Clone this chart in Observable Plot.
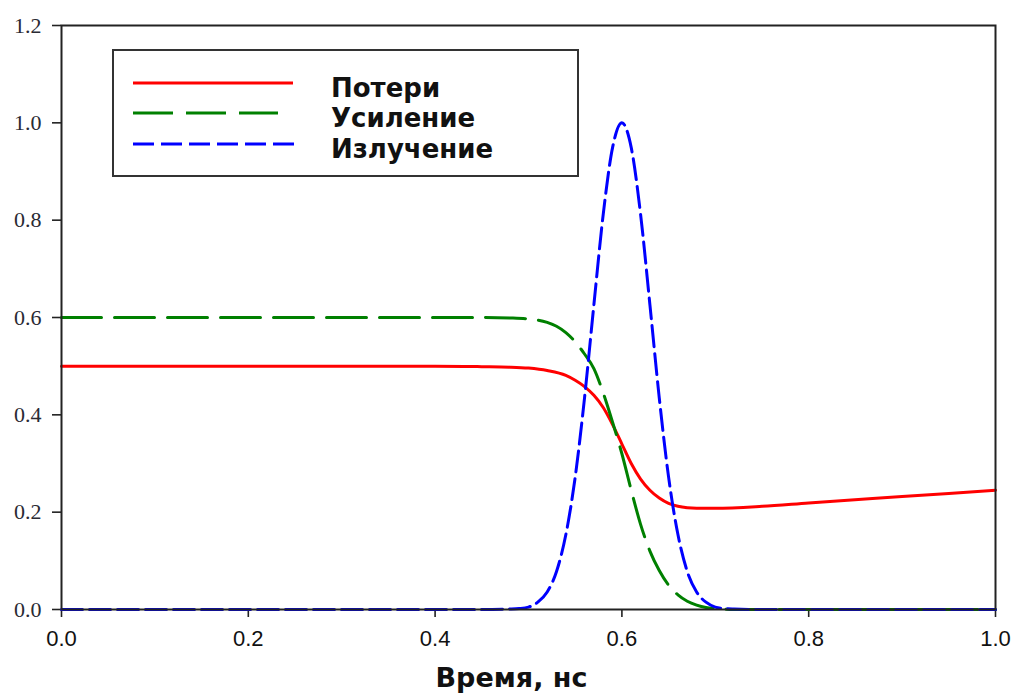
<!DOCTYPE html>
<html>
<head>
<meta charset="utf-8">
<script src="https://cdn.jsdelivr.net/npm/d3@7"></script>
<script src="https://cdn.jsdelivr.net/npm/@observablehq/plot@0.6"></script>
<style>
  body { margin: 0; background: white; }
  #chart { position: relative; width: 1013px; height: 695px; }
</style>
</head>
<body>
<div id="chart"></div>
<script>
// ---- data ----
const seriesNames = ["Потери", "Усиление", "Излучение"];
const seriesColors = ["#ff0000", "#008000", "#0000ff"];
const seriesDash = [null, "40,13", "21,7"];

const lossT = [0, 0.1, 0.2, 0.3, 0.4, 0.45, 0.48, 0.50, 0.52, 0.54, 0.55, 0.56, 0.57, 0.58, 0.59, 0.60, 0.61, 0.62, 0.63, 0.64, 0.65, 0.66, 0.67, 0.68, 0.70, 0.75, 0.80, 0.90, 1.0];
const lossV = [0.5, 0.5, 0.5, 0.5, 0.5, 0.499, 0.498, 0.496, 0.491, 0.481, 0.471, 0.458, 0.440, 0.415, 0.380, 0.340, 0.300, 0.268, 0.245, 0.229, 0.218, 0.212, 0.209, 0.208, 0.208, 0.212, 0.219, 0.232, 0.245];

const gainT = [0, 0.1, 0.2, 0.3, 0.4, 0.45, 0.48, 0.50, 0.52, 0.53, 0.54, 0.55, 0.56, 0.57, 0.58, 0.59, 0.60, 0.61, 0.62, 0.63, 0.64, 0.65, 0.66, 0.67, 0.68, 0.69, 0.70, 0.72, 0.80, 0.90, 1.0];
const gainV = [0.6, 0.6, 0.6, 0.6, 0.6, 0.6, 0.599, 0.597, 0.590, 0.582, 0.569, 0.550, 0.525, 0.495, 0.445, 0.385, 0.320, 0.245, 0.175, 0.120, 0.080, 0.050, 0.030, 0.017, 0.009, 0.004, 0.002, 0, 0, 0, 0];

const emitT = [0, 0.1, 0.2, 0.3, 0.4, 0.45, 0.48, 0.49, 0.50, 0.51, 0.52, 0.53, 0.54, 0.55, 0.56, 0.57, 0.58, 0.59, 0.60, 0.61, 0.62, 0.63, 0.64, 0.65, 0.66, 0.67, 0.68, 0.69, 0.70, 0.71, 0.72, 0.75, 0.80, 0.90, 1.0];
const emitV = [0, 0, 0, 0, 0, 0, 0.001, 0.002, 0.005, 0.015, 0.036, 0.078, 0.154, 0.272, 0.435, 0.626, 0.812, 0.949, 1.0, 0.949, 0.812, 0.626, 0.435, 0.272, 0.154, 0.078, 0.036, 0.015, 0.005, 0.002, 0.001, 0, 0, 0, 0];

const xTicks = [0, 0.2, 0.4, 0.6, 0.8, 1.0];
const yTicks = [0, 0.2, 0.4, 0.6, 0.8, 1.0, 1.2];
const xLabel = "Время, нс";

// ---- build tables ----
const toRows = (T, V) => T.map((t, i) => ({t, v: V[i]}));
const loss = toRows(lossT, lossV);
const gain = toRows(gainT, gainV);
const emit = toRows(emitT, emitV);

const plot = Plot.plot({
  width: 1013,
  height: 695,
  marginLeft: 61,
  marginRight: 18,
  marginTop: 25,
  marginBottom: 86,
  style: {background: "white", overflow: "visible"},
  x: {domain: [0, 1], label: null},
  y: {domain: [0, 1.2], label: null},
  marks: [
    Plot.axisY({ticks: yTicks, tickFormat: d3.format(".1f"), tickSize: 9, tickPadding: 11,
      stroke: "#222", strokeWidth: 1.6, fill: "#2a2a33", label: null}),
    Plot.axisX({ticks: xTicks, tickFormat: d3.format(".1f"), tickSize: 8, tickPadding: 13,
      stroke: "#222", strokeWidth: 1.6, fill: "#111", label: null}),
    Plot.line(loss, {x: "t", y: "v", stroke: seriesColors[0], strokeWidth: 3, curve: "monotone-x"}),
    Plot.line(gain, {x: "t", y: "v", stroke: seriesColors[1], strokeWidth: 3, strokeDasharray: seriesDash[1], curve: "monotone-x"}),
    Plot.line(emit, {x: "t", y: "v", stroke: seriesColors[2], strokeWidth: 3, strokeDasharray: seriesDash[2], curve: "monotone-x"}),
    Plot.frame({stroke: "#222", strokeWidth: 2}),
    Plot.text([xLabel], {text: d => d, frameAnchor: "bottom", dy: 77, dx: -17,
      fontSize: 27, fontWeight: "bold", fontFamily: "DejaVu Sans", fill: "#111"})
  ]
});

document.getElementById("chart").appendChild(plot);

const svg = d3.select(plot);
// fonts for axes
svg.selectAll('g[aria-label="y-axis tick label"] text')
  .style("font-family", "'Liberation Serif', serif").style("font-size", "22px");
svg.selectAll('g[aria-label="x-axis tick label"] text')
  .style("font-family", "'Liberation Sans', Arial, sans-serif").style("font-size", "22px");

// ---- legend (layout in pixels) ----
const lg = svg.append("g");
lg.append("rect").attr("x", 113).attr("y", 50).attr("width", 465).attr("height", 126)
  .attr("fill", "white").attr("stroke", "#333").attr("stroke-width", 2);
const rowY = [83, 113, 144];
const rowEnd = [293, 278, 294];
seriesNames.forEach((name, i) => {
  lg.append("line").attr("x1", 133).attr("x2", rowEnd[i]).attr("y1", rowY[i]).attr("y2", rowY[i])
    .attr("stroke", seriesColors[i]).attr("stroke-width", 3)
    .attr("stroke-dasharray", seriesDash[i]);
  lg.append("text").attr("x", 331).attr("y", rowY[i] + 5).attr("dy", "0.35em")
    .attr("text-anchor", "start")
    .style("font-family", "'DejaVu Sans', Verdana, sans-serif").style("font-weight", "bold").style("font-size", "26px")
    .attr("fill", "#111").text(name);
});
</script>
</body>
</html>
